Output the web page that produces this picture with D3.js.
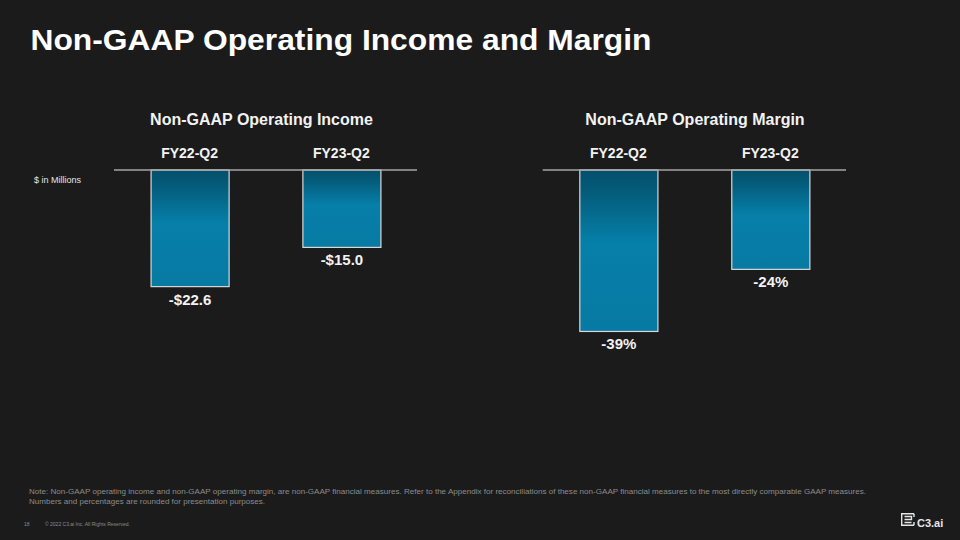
<!DOCTYPE html>
<html>
<head>
<meta charset="utf-8">
<script src="https://cdn.jsdelivr.net/npm/d3@7"></script>
<style>
  html, body { margin: 0; padding: 0; background: #1b1b1b; }
  svg { display: block; font-family: "Liberation Sans", Arial, Helvetica, sans-serif; }
</style>
</head>
<body>
<svg id="chart" width="960" height="540"></svg>
<script>
// ---- Data ----
const categories = ["FY22-Q2", "FY23-Q2"];
const incomeValues = [-22.6, -15.0];
const marginValues = [-39, -24];
const chartTitles = ["Non-GAAP Operating Income", "Non-GAAP Operating Margin"];
const mainTitle = "Non-GAAP Operating Income and Margin";
const unitNote = "$ in Millions";
const footnoteLines = [
  "Note: Non-GAAP operating income and non-GAAP operating margin, are non-GAAP financial measures. Refer to the Appendix for reconciliations of these non-GAAP financial measures to the most directly comparable GAAP measures.",
  "Numbers and percentages are rounded for presentation purposes."
];
const pageNumber = "18";
const copyright = "\u00A9 2022 C3.ai Inc. All Rights Reserved.";

const svg = d3.select("#chart");
svg.append("rect").attr("width", 960).attr("height", 540).attr("fill", "#1b1b1b");

// gradient
const defs = svg.append("defs");
const grad = defs.append("linearGradient").attr("id", "barGrad")
  .attr("x1", 0).attr("y1", 0).attr("x2", 0).attr("y2", 1);
grad.append("stop").attr("offset", "0%").attr("stop-color", "#03506c");
grad.append("stop").attr("offset", "12%").attr("stop-color", "#045a78");
grad.append("stop").attr("offset", "45%").attr("stop-color", "#067fa9");
grad.append("stop").attr("offset", "100%").attr("stop-color", "#077aa3");

// main title
svg.append("text").attr("x", 30.5).attr("y", 50)
  .attr("fill", "#ffffff").attr("font-weight", "bold").attr("font-size", 29.5)
  .attr("textLength", 621).attr("lengthAdjust", "spacingAndGlyphs")
  .text(mainTitle);

function drawPanel(cfg) {
  const g = svg.append("g");
  const x = d3.scaleBand().domain(categories).range(cfg.xRange)
    .paddingInner(0.486).paddingOuter(0.241);
  const y = d3.scaleLinear().domain(cfg.yDomain).range(cfg.yRange);

  g.append("text").attr("x", cfg.titleX).attr("y", 125)
    .attr("text-anchor", "middle").attr("fill", "#f2f2f2")
    .attr("font-weight", "bold").attr("font-size", 16)
    .text(cfg.title);

  g.selectAll(".cat").data(categories).enter().append("text")
    .attr("x", d => x(d) + x.bandwidth() / 2).attr("y", 158)
    .attr("text-anchor", "middle").attr("fill", "#f2f2f2")
    .attr("font-weight", "bold").attr("font-size", 14)
    .text(d => d);

  g.selectAll(".bar").data(cfg.values).enter().append("rect")
    .attr("x", (d, i) => x(categories[i]) + 0.5)
    .attr("y", y(0))
    .attr("width", x.bandwidth())
    .attr("height", d => y(d) - y(0))
    .attr("fill", "url(#barGrad)")
    .attr("stroke", "#d8d8d8").attr("stroke-width", 1.2);

  g.append("line").attr("x1", cfg.xRange[0]).attr("x2", cfg.xRange[1])
    .attr("y1", y(0)).attr("y2", y(0))
    .attr("stroke", "#a6a6a6").attr("stroke-width", 1.5);

  g.selectAll(".val").data(cfg.values).enter().append("text")
    .attr("x", (d, i) => x(categories[i]) + x.bandwidth() / 2 + 0.5)
    .attr("y", d => y(d) + 18)
    .attr("text-anchor", "middle").attr("fill", "#f2f2f2")
    .attr("font-weight", "bold").attr("font-size", 15)
    .text(cfg.fmt);
}

drawPanel({
  title: chartTitles[0], titleX: 261.5,
  values: incomeValues,
  xRange: [114, 417],
  yDomain: [-30, 0], yRange: [170 + 30 * 5.16, 170],
  fmt: d => "-$" + Math.abs(d).toFixed(1)
});
drawPanel({
  title: chartTitles[1], titleX: 695,
  values: marginValues,
  xRange: [542.7, 846],
  yDomain: [-50, 0], yRange: [170 + 50 * 4.14, 170],
  fmt: d => "-" + Math.abs(d) + "%"
});

svg.append("text").attr("x", 34).attr("y", 182.5)
  .attr("fill", "#e6e6e6").attr("font-size", 9).text(unitNote);

// footnote
svg.selectAll(".fn").data(footnoteLines).enter().append("text")
  .attr("x", 29).attr("y", (d, i) => 494 + i * 9.8)
  .attr("fill", "#8c8c8c").attr("font-size", 8)
  .attr("textLength", (d, i) => i === 0 ? 837 : 236)
  .attr("lengthAdjust", "spacingAndGlyphs")
  .text(d => d);

svg.append("text").attr("x", 24).attr("y", 525.5).attr("fill", "#8c8c8c")
  .attr("font-size", 5).text(pageNumber);
svg.append("text").attr("x", 45).attr("y", 525.5).attr("fill", "#8c8c8c")
  .attr("font-size", 4.5).attr("textLength", 85).attr("lengthAdjust", "spacingAndGlyphs")
  .text(copyright);

// logo
const logo = svg.append("g").attr("transform", "translate(901,513)")
  .attr("fill", "none").attr("stroke", "#e6e6e6").attr("stroke-width", 1.4);
logo.append("path").attr("d", "M13,0.7 H0.7 V12.3 H13 M13,0.7 V4 M13,12.3 V9 M3.5,3.5 H10.5 V6.5 H3.5 M3.5,9.5 H10.5");
svg.append("text").attr("x", 917).attr("y", 526.5).attr("fill", "#e6e6e6")
  .attr("font-weight", "bold").attr("font-size", 11).text("C3.ai");
</script>
</body>
</html>
